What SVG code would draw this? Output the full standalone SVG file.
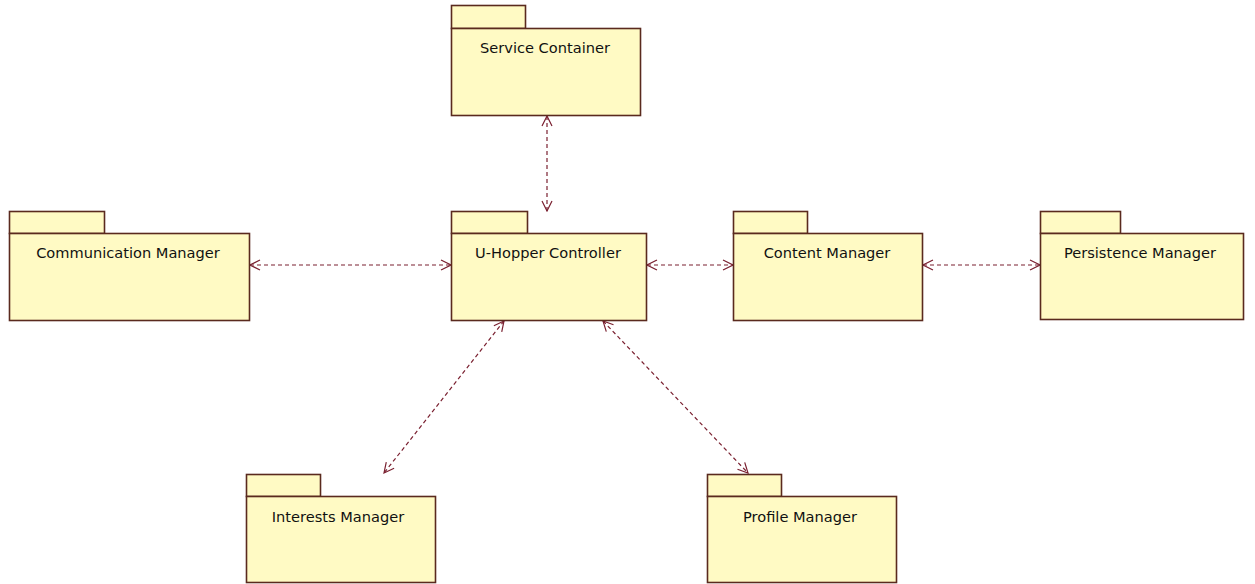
<svg xmlns="http://www.w3.org/2000/svg" width="1255" height="584" viewBox="0 0 1255 584">
<style>
.pkg{fill:#FFFAC4;stroke:#5A2A1E;stroke-width:1.6}
.lbl{font-family:"DejaVu Sans",Verdana,sans-serif;font-size:14.6px;fill:#111;text-anchor:middle}
.dep{fill:none;stroke:#7A2030;stroke-width:1.2;stroke-dasharray:4 3}
</style>
<defs>
<marker id="arr" viewBox="0 0 12 12" refX="11" refY="6" markerWidth="12" markerHeight="12" markerUnits="userSpaceOnUse" orient="auto-start-reverse">
<path d="M1,1 L11,6 L1,11" fill="none" stroke="#7A2030" stroke-width="1.2"/>
</marker>
</defs>
<rect width="1255" height="584" fill="#fff"/>
<g id="connectors">
<line class="dep" x1="547" y1="116" x2="547" y2="211" marker-start="url(#arr)" marker-end="url(#arr)"/>
<line class="dep" x1="250" y1="265" x2="451" y2="265" marker-start="url(#arr)" marker-end="url(#arr)"/>
<line class="dep" x1="647" y1="265" x2="733" y2="265" marker-start="url(#arr)" marker-end="url(#arr)"/>
<line class="dep" x1="923" y1="265" x2="1040" y2="265" marker-start="url(#arr)" marker-end="url(#arr)"/>
<line class="dep" x1="504" y1="321" x2="384" y2="473" marker-start="url(#arr)" marker-end="url(#arr)"/>
<line class="dep" x1="603" y1="321" x2="748" y2="473" marker-start="url(#arr)" marker-end="url(#arr)"/>
</g>
<g id="service-container">
<rect class="pkg" x="451.5" y="5.5" width="74" height="23"/>
<rect class="pkg" x="451.5" y="28.5" width="189" height="87"/>
<text class="lbl" x="545" y="53">Service Container</text>
</g>
<g id="u-hopper-controller">
<rect class="pkg" x="451.5" y="211.5" width="76" height="22"/>
<rect class="pkg" x="451.5" y="233.5" width="195" height="87"/>
<text class="lbl" x="548" y="258">U-Hopper Controller</text>
</g>
<g id="communication-manager">
<rect class="pkg" x="9.5" y="211.5" width="95" height="22"/>
<rect class="pkg" x="9.5" y="233.5" width="240" height="87"/>
<text class="lbl" x="128" y="258">Communication Manager</text>
</g>
<g id="content-manager">
<rect class="pkg" x="733.5" y="211.5" width="74" height="22"/>
<rect class="pkg" x="733.5" y="233.5" width="189" height="87"/>
<text class="lbl" x="827" y="258">Content Manager</text>
</g>
<g id="persistence-manager">
<rect class="pkg" x="1040.5" y="211.5" width="80" height="22"/>
<rect class="pkg" x="1040.5" y="233.5" width="203" height="86"/>
<text class="lbl" x="1140" y="258">Persistence Manager</text>
</g>
<g id="interests-manager">
<rect class="pkg" x="246.5" y="474.5" width="74" height="22"/>
<rect class="pkg" x="246.5" y="496.5" width="189" height="86"/>
<text class="lbl" x="338" y="522">Interests Manager</text>
</g>
<g id="profile-manager">
<rect class="pkg" x="707.5" y="474.5" width="74" height="22"/>
<rect class="pkg" x="707.5" y="496.5" width="189" height="86"/>
<text class="lbl" x="800" y="522">Profile Manager</text>
</g>
</svg>
